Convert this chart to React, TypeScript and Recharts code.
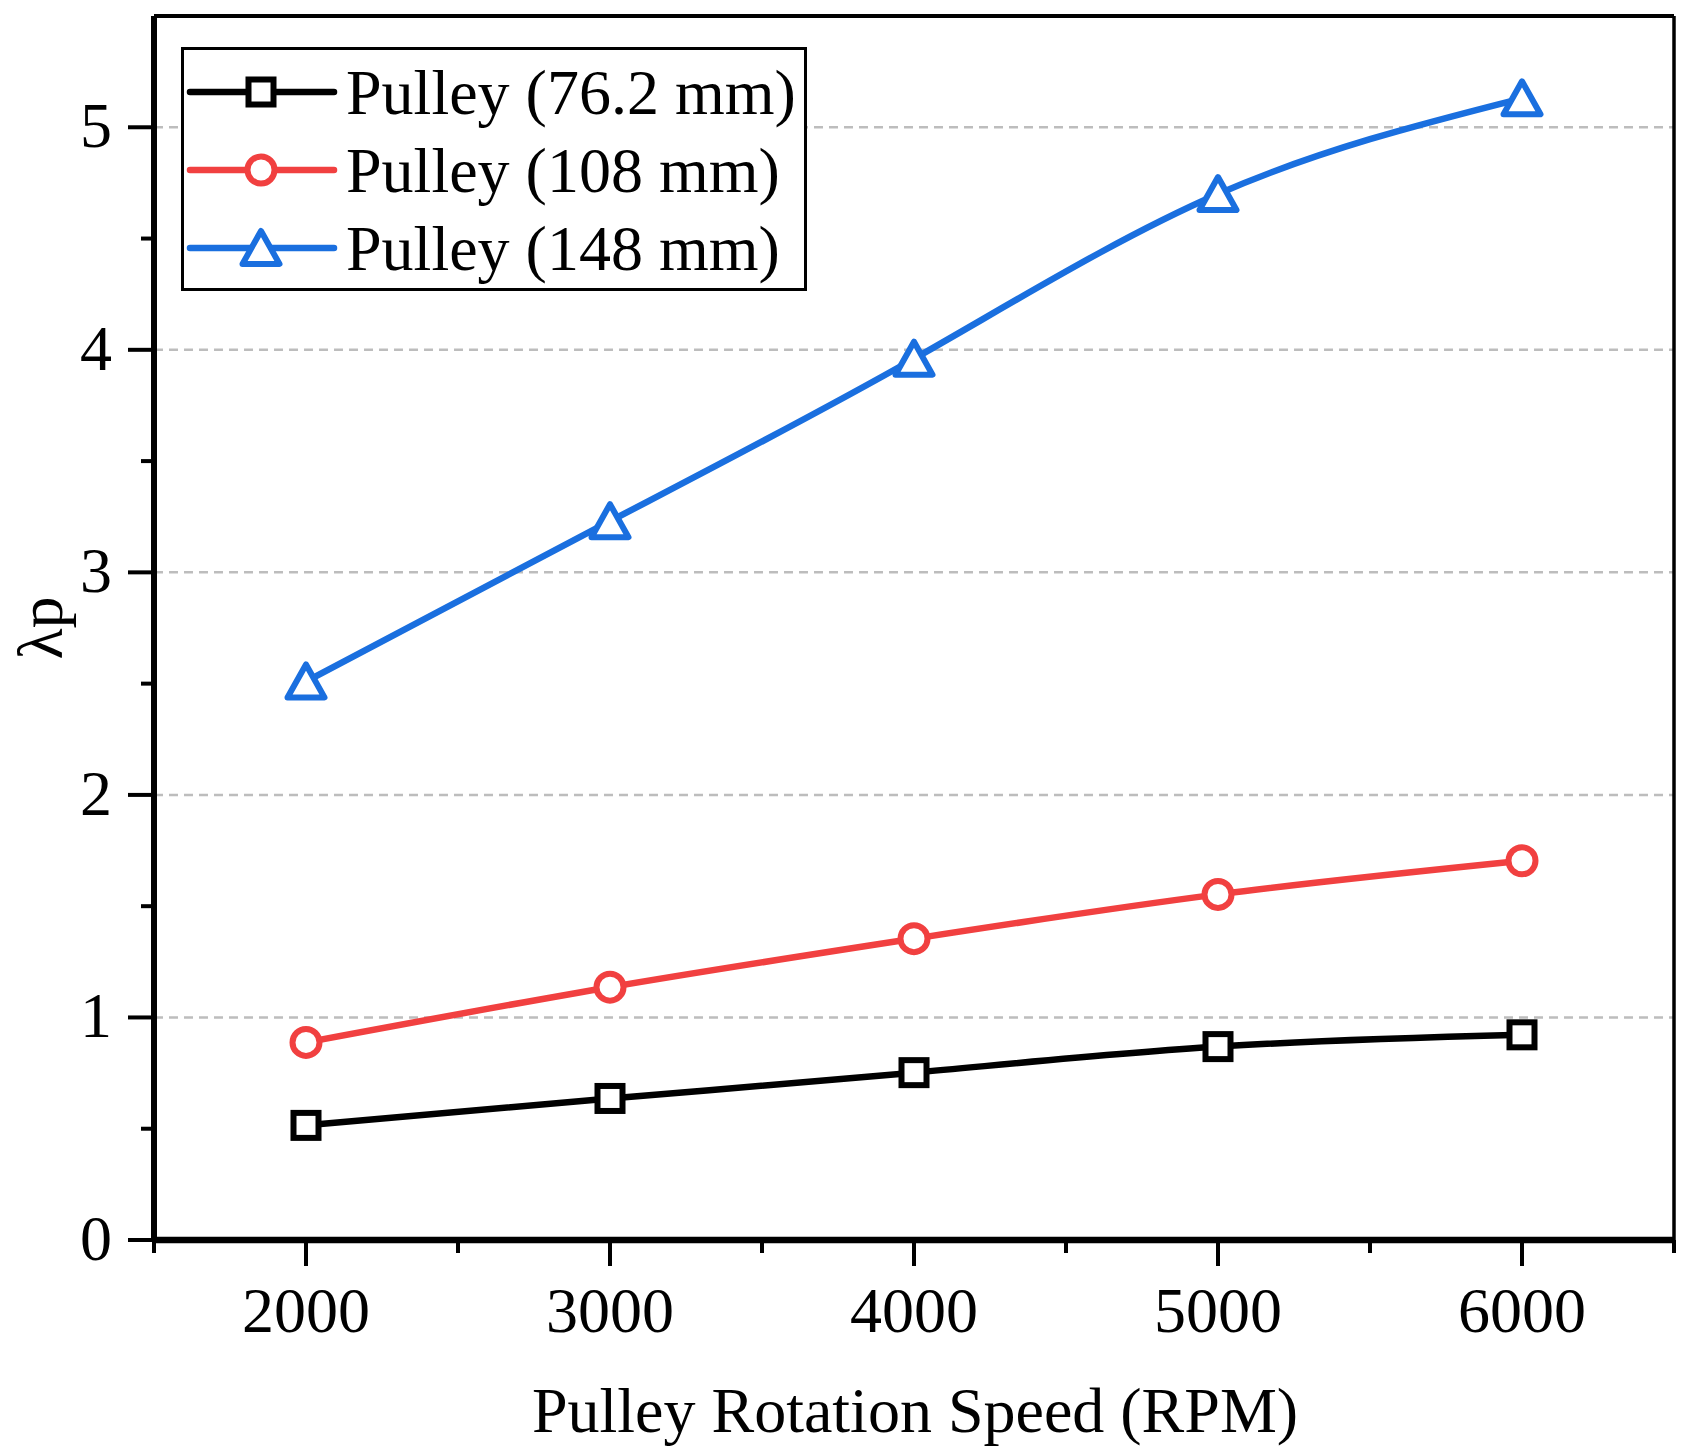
import React from "react"
import { LineChart, Line, XAxis, YAxis, ReferenceLine, Legend, Label } from "recharts"

const speeds = [2000, 3000, 4000, 5000, 6000]
const pulley76 = [0.515, 0.636, 0.752, 0.869, 0.922]
const pulley108 = [0.888, 1.136, 1.354, 1.553, 1.704]
const pulley148 = [2.51, 3.23, 3.96, 4.7, 5.13]

const majorXTicks = [2000, 3000, 4000, 5000, 6000]
const minorXTicks = [1500, 2500, 3500, 4500, 5500, 6500]
const majorYTicks = [0, 1, 2, 3, 4, 5]
const minorYTicks = [0.5, 1.5, 2.5, 3.5, 4.5]
const gridValues = [1, 2, 3, 4, 5]

const FONT = "'Liberation Serif', 'Times New Roman', serif"
const FONT_SIZE = 64
const LINE_W = 6.5
const MARK_W = 6

type Shape = "square" | "circle" | "triangle"

const SERIES: { key: string; name: string; color: string; shape: Shape }[] = [
  { key: "p76", name: "Pulley (76.2 mm)", color: "#000000", shape: "square" },
  { key: "p108", name: "Pulley (108 mm)", color: "#F14040", shape: "circle" },
  { key: "p148", name: "Pulley (148 mm)", color: "#1A6FDF", shape: "triangle" },
]

const data = speeds.map((speed, i) => ({
  speed,
  p76: pulley76[i],
  p108: pulley108[i],
  p148: pulley148[i],
}))

function Marker({ cx, cy, shape, color }: { cx: number; cy: number; shape: Shape; color: string }) {
  if (shape === "square") {
    return <rect x={cx - 12.5} y={cy - 12.5} width={25} height={25} fill="#fff" stroke={color} strokeWidth={MARK_W} />
  }
  if (shape === "circle") {
    return <circle cx={cx} cy={cy} r={13.5} fill="#fff" stroke={color} strokeWidth={MARK_W} />
  }
  const h = 32
  const w = 37
  return (
    <polygon
      points={`${cx},${cy - h / 2 - 1} ${cx + w / 2},${cy + h / 2} ${cx - w / 2},${cy + h / 2}`}
      fill="#fff"
      stroke={color}
      strokeWidth={MARK_W}
      strokeLinejoin="round"
    />
  )
}

const makeDot = (shape: Shape, color: string) => (props: any) => {
  const { cx, cy, index } = props
  if (cx == null || cy == null) return <g key={`d-${index}`} />
  return (
    <g key={`d-${index}`}>
      <Marker cx={cx} cy={cy} shape={shape} color={color} />
    </g>
  )
}

const XTick = (props: any) => {
  const { x, y, payload } = props
  const major = majorXTicks.includes(payload.value)
  return (
    <g>
      <line x1={x} x2={x} y1={y} y2={y + (major ? 26 : 13)} stroke="#000" strokeWidth={4} />
      {major && (
        <text x={x} y={y + 92} textAnchor="middle" fontFamily={FONT} fontSize={FONT_SIZE} fill="#000">
          {payload.value}
        </text>
      )}
    </g>
  )
}

const YTick = (props: any) => {
  const { x, y, payload } = props
  const major = majorYTicks.includes(payload.value)
  return (
    <g>
      <line x1={x} x2={x - (major ? 26 : 13)} y1={y} y2={y} stroke="#000" strokeWidth={4} />
      {major && (
        <text x={x - 42} y={y + 20} textAnchor="end" fontFamily={FONT} fontSize={FONT_SIZE} fill="#000">
          {payload.value}
        </text>
      )}
    </g>
  )
}

const renderLegend = () => (
  <svg width={626} height={244} style={{ display: "block" }}>
    <rect x={1.5} y={1.5} width={623} height={241} fill="#fff" stroke="#000" strokeWidth={3} />
    {SERIES.map((s, i) => {
      const cy = 45 + i * 78
      return (
        <g key={s.key}>
          <line x1={9} x2={153} y1={cy} y2={cy} stroke={s.color} strokeWidth={LINE_W} strokeLinecap="round" />
          <Marker cx={80} cy={cy} shape={s.shape} color={s.color} />
          <text x={165} y={cy + 22} fontFamily={FONT} fontSize={FONT_SIZE} fill="#000">
            {s.name}
          </text>
        </g>
      )
    })}
  </svg>
)

export default function App() {
  return (
    <div style={{ width: 1693, height: 1452, background: "#fff" }}>
      <style>{`body { margin: 0; }`}</style>
      <LineChart width={1693} height={1452} data={data} margin={{ top: 16, right: 19, bottom: 0, left: 0 }}>
        <XAxis
          dataKey="speed"
          type="number"
          domain={[1500, 6500]}
          ticks={[...minorXTicks, ...majorXTicks].sort((a, b) => a - b)}
          interval={0}
          height={212}
          tickSize={0}
          tickMargin={0}
          tick={<XTick />}
          tickLine={false}
          axisLine={false}
        >
          <Label
            content={() => (
              <text x={915} y={1432} textAnchor="middle" fontFamily={FONT} fontSize={FONT_SIZE} fill="#000">
                Pulley Rotation Speed (RPM)
              </text>
            )}
          />
        </XAxis>
        <YAxis
          type="number"
          domain={[0, 5.5]}
          ticks={[...minorYTicks, ...majorYTicks].sort((a, b) => a - b)}
          interval={0}
          width={154}
          tickSize={0}
          tickMargin={0}
          tick={<YTick />}
          tickLine={false}
          axisLine={false}
        >
          <Label
            content={() => (
              <text
                x={40}
                y={628}
                transform="rotate(-90, 40, 628)"
                textAnchor="middle"
                dominantBaseline="central"
                fontFamily={FONT}
                fontSize={FONT_SIZE}
                fill="#000"
              >
                λp
              </text>
            )}
          />
        </YAxis>
        {gridValues.map((v) => (
          <ReferenceLine key={v} y={v} stroke="#bdbdbd" strokeWidth={2.5} strokeDasharray="9 6" />
        ))}
        <ReferenceLine y={5.5} stroke="#000" strokeWidth={4} ifOverflow="visible" />
        <ReferenceLine x={6500} stroke="#000" strokeWidth={3.5} ifOverflow="visible" />
        <ReferenceLine x={1500} stroke="#000" strokeWidth={6} ifOverflow="visible" />
        <ReferenceLine y={0} stroke="#000" strokeWidth={6.5} ifOverflow="visible" />
        <Legend
          content={renderLegend}
          layout="horizontal"
          verticalAlign="middle"
          align="center"
          wrapperStyle={{ position: "absolute", left: 181, top: 47, width: 626, height: 244 }}
        />
        {SERIES.map((s) => (
          <Line
            key={s.key}
            type="natural"
            dataKey={s.key}
            name={s.name}
            stroke={s.color}
            strokeWidth={LINE_W}
            dot={makeDot(s.shape, s.color)}
            activeDot={false}
            isAnimationActive={false}
          />
        ))}
      </LineChart>
    </div>
  )
}
